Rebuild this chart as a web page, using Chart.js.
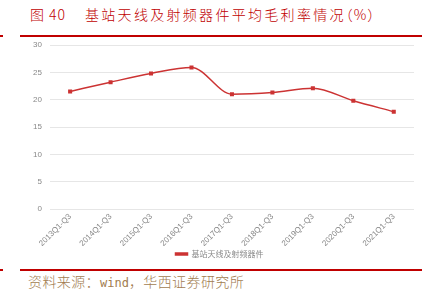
<!DOCTYPE html>
<html>
<head>
<meta charset="utf-8">
<script src="https://cdn.jsdelivr.net/npm/chart.js@4"></script>
<style>
  body { margin: 0; width: 440px; height: 297px; background: #fff; position: relative; overflow: hidden; font-family: "Noto Sans CJK SC", sans-serif; }
  .title { position: absolute; top: 4px; font-size: 14px; font-weight: 300; color: #c00000; white-space: nowrap; }
  .title span { font-feature-settings: "halt"; letter-spacing: 1px; }
  .rule { position: absolute; left: 20px; width: 402px; height: 2px; background: #c00000; }
  .tick { position: absolute; left: 0; width: 3px; height: 2px; background: #c00000; }
  #source { position: absolute; left: 28px; top: 271px; font-size: 14px; font-weight: 300; color: #a27c4f; letter-spacing: 0.4px; white-space: nowrap; }
  #source span { font-family: "DejaVu Sans Mono", monospace; font-size: 12px; letter-spacing: 0; }
  #wrap { position: absolute; left: 0; top: 30px; width: 440px; height: 240px; }
</style>
</head>
<body>
<div class="title" style="left:30px; letter-spacing:1px">图 40</div>
<div class="title" style="left:85px; letter-spacing:2.3px">基站天线及射频器件平均毛利率情况<span>（%）</span></div>
<div class="rule" style="top:35px"></div>
<div class="tick" style="top:35px"></div>
<div class="rule" style="top:269px"></div>
<div class="tick" style="top:269px"></div>
<div id="wrap"><canvas id="chart"></canvas></div>
<div id="source">资料来源：<span>wind</span>，华西证券研究所</div>
<script>
const categories = ['2013Q1-Q3', '2014Q1-Q3', '2015Q1-Q3', '2016Q1-Q3', '2017Q1-Q3', '2018Q1-Q3', '2019Q1-Q3', '2020Q1-Q3', '2021Q1-Q3'];
const seriesName = '基站天线及射频器件';
const margins = [21.5, 23.2, 24.8, 25.9, 21.0, 21.3, 22.1, 19.8, 17.8];
const yTicks = [0, 5, 10, 15, 20, 25, 30];

const ctx = document.getElementById('chart').getContext('2d');
new Chart(ctx, {
    type: 'line',
    data: {
        labels: categories,
        datasets: [{
            label: seriesName,
            data: margins,
            borderColor: '#cc3333',
            backgroundColor: '#cc3333',
            borderWidth: 1.5,
            pointRadius: 1.8,
            pointStyle: 'rect',
            cubicInterpolationMode: 'monotone'
        }]
    },
    options: {
        responsive: true,
        maintainAspectRatio: false,
        animation: false,
        layout: { padding: { left: 25, right: 26, top: 15, bottom: 2 } },
        plugins: {
            legend: {
                position: 'bottom',
                labels: {
                    color: '#888',
                    font: { size: 8, family: 'Noto Sans CJK SC' },
                    boxWidth: 12,
                    boxHeight: 2,
                    padding: 4
                }
            },
            tooltip: { enabled: false }
        },
        scales: {
            x: {
                offset: true,
                grid: { display: false, drawTicks: false },
                border: { display: false },
                afterFit: axis => { axis.height = 37; },
                ticks: {
                    color: '#888',
                    font: { size: 8, family: 'Liberation Sans' },
                    maxRotation: 45,
                    minRotation: 45,
                    padding: 3
                }
            },
            y: {
                min: 0,
                max: 30,
                afterBuildTicks: axis => { axis.ticks = yTicks.map(v => ({ value: v })); },
                grid: { color: '#e6e6e6', lineWidth: 1, drawTicks: false },
                border: { display: false },
                ticks: {
                    color: '#888',
                    font: { size: 8, family: 'Liberation Sans' },
                    padding: 8
                }
            }
        }
    }
});
</script>
</body>
</html>
